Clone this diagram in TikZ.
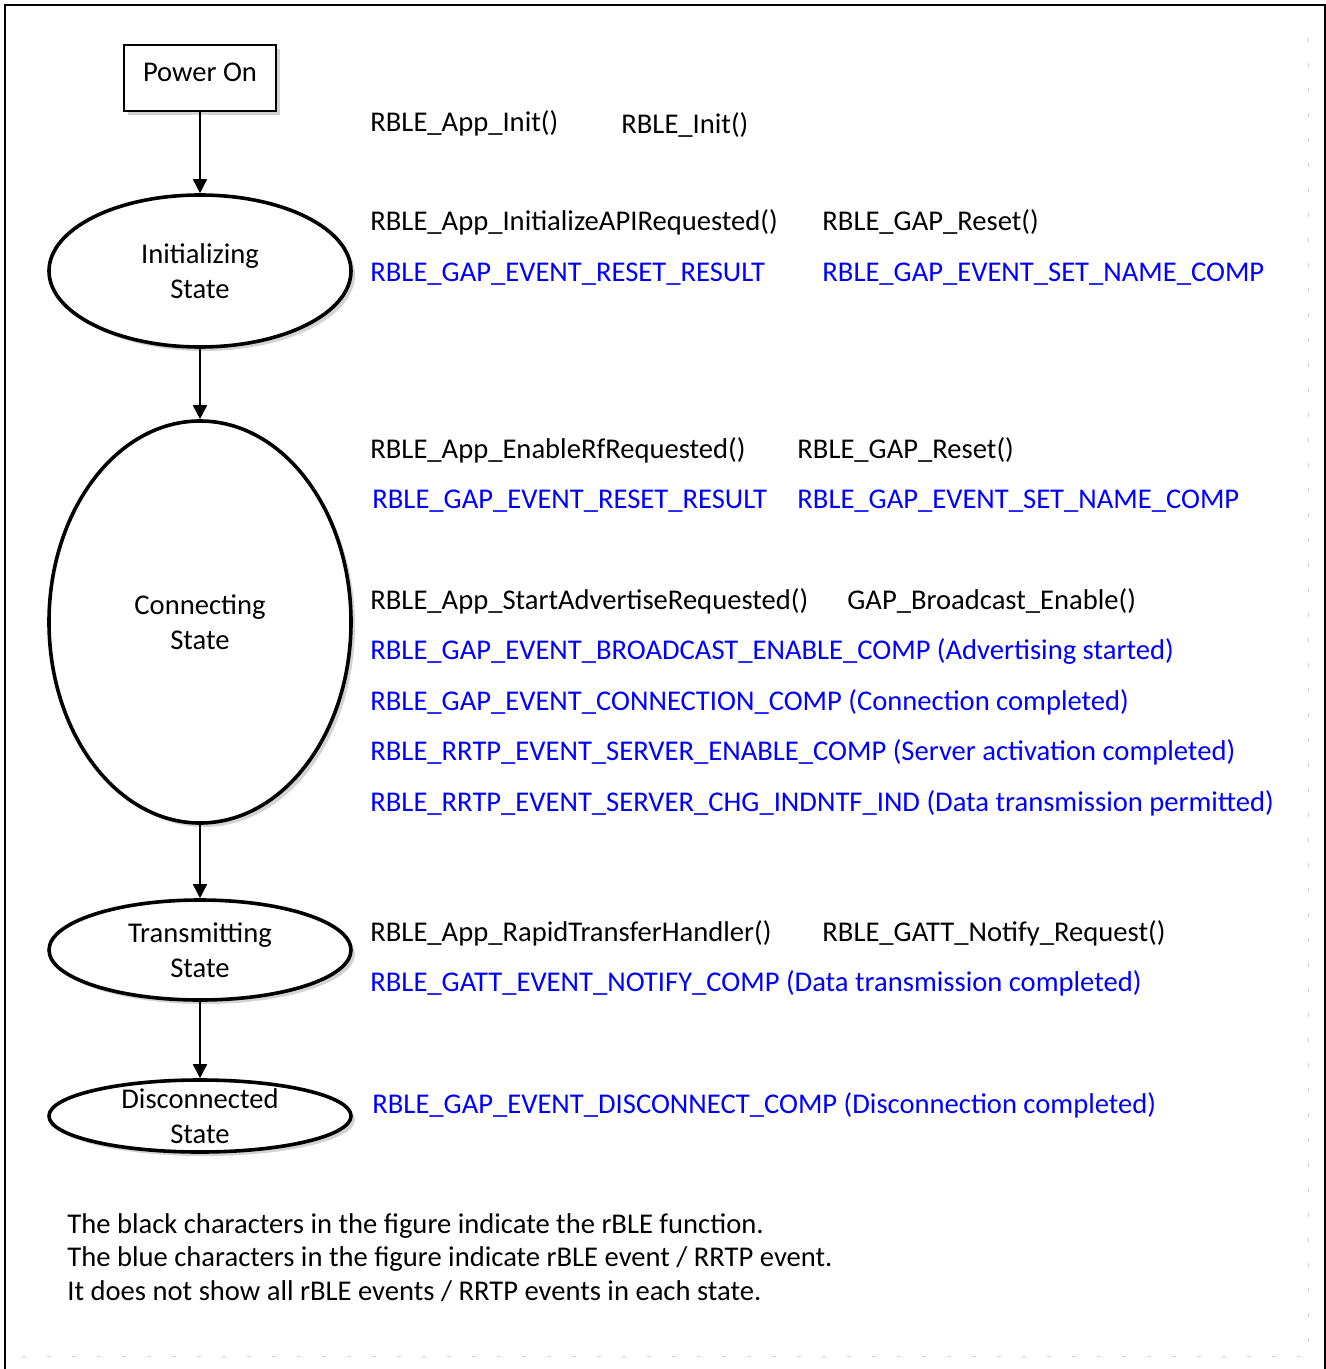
\documentclass[tikz,border=0pt]{standalone}
\usepackage{fontspec}
\setmainfont{Carlito}
\usepackage{tikz}
\usetikzlibrary{positioning, arrows.meta, shapes.geometric, shadows}

\begin{document}
\begin{tikzpicture}[x=0.5pt, y=-0.5pt,
  state/.style={draw, ellipse, line width=1.8pt, fill=white, inner sep=0pt,
                minimum width=151pt,
                drop shadow={shadow xshift=2pt, shadow yshift=-2pt, opacity=0.35}},
  statetext/.style={font=\fontsize{14.3}{17.5}\selectfont, align=center},
  box/.style={draw, line width=0.9pt, fill=white, minimum width=76pt,
              minimum height=33pt, text depth=6pt,
              font=\fontsize{14.3}{17}\selectfont,
              drop shadow={shadow xshift=2pt, shadow yshift=-2pt, opacity=0.35}},
  fn/.style={anchor=base west, inner sep=0pt, font=\fontsize{14.3}{17}\selectfont},
  ev/.style={fn, text=blue},
  arr/.style={-{Triangle[length=7pt, width=7pt]}, line width=0.8pt}
]
\useasboundingbox (0,0) rectangle (1326,1369);

% Frame
\draw[line width=1.2pt] (5,1369) -- (5,5) -- (1325,5) -- (1325,1369);
\draw[black!18, line width=0.5pt, dash pattern=on 2pt off 10.5pt]
  (22,1356) -- (1308,1356) -- (1308,20);

% States
\node[box] (pwr) at (200,78) {Power On};
\node[state, minimum height=76pt,
      label={[statetext]center:Initializing\\State}] (init) at (200,271) {};
\node[state, minimum height=201pt,
      label={[statetext]center:Connecting\\State}] (conn) at (200,622) {};
\node[state, minimum height=50pt,
      label={[statetext]center:Transmitting\\State}] (trans) at (200,950) {};
\node[state, minimum height=36pt,
      label={[statetext]center:Disconnected\\State}] (disc) at (200,1116) {};

% Arrows
\draw[arr] (pwr) -- (init);
\draw[arr] (init) -- (conn);
\draw[arr] (conn) -- (trans);
\draw[arr] (trans) -- (disc);

% Power on
\node[fn] (appinit) at (370,132) {RBLE\_App\_Init()};
\node[fn] (rbleinit) at (621,134) {RBLE\_Init()};

% Initializing
\node[fn] (initapi) at (370,231) {RBLE\_App\_InitializeAPIRequested()};
\node[fn] (gapreset1) at (822,231) {RBLE\_GAP\_Reset()};
\node[ev] (resetres1) at (370,282) {RBLE\_GAP\_EVENT\_RESET\_RESULT};
\node[ev] (setname1) at (822,282) {RBLE\_GAP\_EVENT\_SET\_NAME\_COMP};

% Connecting
\node[fn] (enrf) at (370,458) {RBLE\_App\_EnableRfRequested()};
\node[fn] (gapreset2) at (797,458) {RBLE\_GAP\_Reset()};
\node[ev] (resetres2) at (372,508) {RBLE\_GAP\_EVENT\_RESET\_RESULT};
\node[ev] (setname2) at (797,508) {RBLE\_GAP\_EVENT\_SET\_NAME\_COMP};
\node[fn] (startadv) at (370,609) {RBLE\_App\_StartAdvertiseRequested()};
\node[fn] (bcast) at (847,609) {GAP\_Broadcast\_Enable()};
\node[ev] (bcastcomp) at (370,659)
  {RBLE\_GAP\_EVENT\_BROADCAST\_ENABLE\_COMP (Advertising started)};
\node[ev] (conncomp) at (370,710)
  {RBLE\_GAP\_EVENT\_CONNECTION\_COMP (Connection completed)};
\node[ev] (srvcomp) at (370,760)
  {RBLE\_RRTP\_EVENT\_SERVER\_ENABLE\_COMP (Server activation completed)};
\node[ev] (chgind) at (370,811)
  {RBLE\_RRTP\_EVENT\_SERVER\_CHG\_INDNTF\_IND (Data transmission permitted)};

% Transmitting
\node[fn] (rapid) at (370,941) {RBLE\_App\_RapidTransferHandler()};
\node[fn] (notify) at (822,941) {RBLE\_GATT\_Notify\_Request()};
\node[ev] (notifycomp) at (370,991)
  {RBLE\_GATT\_EVENT\_NOTIFY\_COMP (Data transmission completed)};

% Disconnected
\node[ev] (disccomp) at (372,1113)
  {RBLE\_GAP\_EVENT\_DISCONNECT\_COMP (Disconnection completed)};

% Note
\node[fn, anchor=north west, align=left, font=\fontsize{14.3}{16.7}\selectfont]
  (note) at (67,1213)
  {The black characters in the figure indicate the rBLE function.\\
   The blue characters in the figure indicate rBLE event / RRTP event.\\
   It does not show all rBLE events / RRTP events in each state.};

\end{tikzpicture}
\end{document}
